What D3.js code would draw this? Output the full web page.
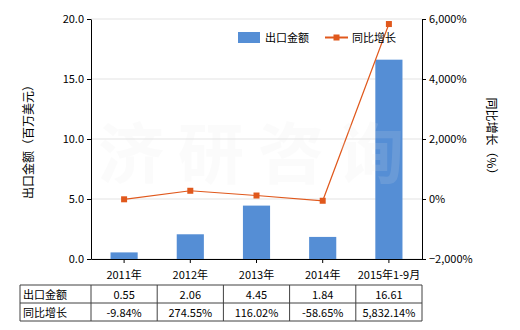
<!DOCTYPE html>
<html>
<head>
<meta charset="utf-8">
<script src="https://cdn.jsdelivr.net/npm/d3@7"></script>
<style>
  body { margin: 0; background: #fff; }
  svg { font-family: "Noto Sans CJK SC", "DejaVu Sans", sans-serif; }
</style>
</head>
<body>
<svg id="chart" width="520" height="330"></svg>
<script>
// data
const categories = ["2011年", "2012年", "2013年", "2014年", "2015年1-9月"];
const exportValues = [0.55, 2.06, 4.45, 1.84, 16.61];
const growthValues = [-9.84, 274.55, 116.02, -58.65, 5832.14];
const exportLabels = ["0.55", "2.06", "4.45", "1.84", "16.61"];
const growthLabels = ["-9.84%", "274.55%", "116.02%", "-58.65%", "5,832.14%"];
const leftTicks = [0, 5, 10, 15, 20];
const rightTicks = [-2000, 0, 2000, 4000, 6000];

const plotLeft = 91, plotRight = 422, plotTop = 19, plotBottom = 259;
const barColor = "#558ed5";
const lineColor = "#e0581c";

const svg = d3.select("#chart");

const x = d3.scaleBand()
    .domain(categories)
    .range([plotLeft, plotRight]);

const y = d3.scaleLinear()
    .domain([0, 20])
    .range([plotBottom, plotTop]);

const y2 = d3.scaleLinear()
    .domain([-2000, 6000])
    .range([plotBottom, plotTop]);

// grid
svg.append("g")
    .selectAll("line")
    .data(leftTicks)
    .enter()
    .append("line")
    .attr("x1", plotLeft).attr("x2", plotRight)
    .attr("y1", d => y(d)).attr("y2", d => y(d))
    .attr("stroke", "#e3e3e3")
    .attr("stroke-width", 1);

// bars
const bw = x.bandwidth() * 0.41;
svg.append("g")
    .selectAll("rect")
    .data(exportValues)
    .enter()
    .append("rect")
    .attr("x", (d, i) => x(categories[i]) + x.bandwidth() / 2 - bw / 2)
    .attr("y", d => y(d))
    .attr("width", bw)
    .attr("height", d => y(0) - y(d))
    .attr("fill", barColor);

// growth line
const line = d3.line()
    .x((d, i) => x(categories[i]) + x.bandwidth() / 2)
    .y(d => y2(d));

svg.append("path")
    .datum(growthValues)
    .attr("d", line)
    .attr("fill", "none")
    .attr("stroke", lineColor)
    .attr("stroke-width", 1.2);

svg.append("g")
    .selectAll("rect")
    .data(growthValues)
    .enter()
    .append("rect")
    .attr("x", (d, i) => x(categories[i]) + x.bandwidth() / 2 - 3)
    .attr("y", d => y2(d) - 3)
    .attr("width", 6)
    .attr("height", 6)
    .attr("fill", lineColor);

// faint watermark
svg.append("text")
    .attr("x", 258)
    .attr("y", 178)
    .attr("text-anchor", "middle")
    .attr("font-size", 66)
    .attr("font-weight", "bold")
    .attr("letter-spacing", 14)
    .attr("fill", "#e6e6e6")
    .attr("opacity", 0.14)
    .text("济研咨询");

// axes
const yAxis = d3.axisLeft(y).tickValues(leftTicks).tickFormat(d3.format(".1f")).tickSize(4).tickSizeOuter(0);
const gy = svg.append("g").attr("transform", `translate(${plotLeft},0)`).call(yAxis);

const y2Axis = d3.axisRight(y2).tickValues(rightTicks).tickFormat(d => d3.format(",")(d) + "%").tickSize(4).tickSizeOuter(0);
const gy2 = svg.append("g").attr("transform", `translate(${plotRight},0)`).call(y2Axis);

const xAxis = d3.axisBottom(x).tickSize(4).tickSizeOuter(0);
const gx = svg.append("g").attr("transform", `translate(0,${plotBottom})`).call(xAxis);

[gy, gy2, gx].forEach(g => {
    g.selectAll("path, line").attr("stroke", "#000");
    g.selectAll("text").attr("fill", "#000").attr("font-size", 11)
        .attr("font-family", "\"Noto Sans CJK SC\", sans-serif");
});
gx.selectAll("text").attr("dy", "1.2em");

// axis titles
svg.append("text")
    .attr("transform", "translate(33,139) rotate(-90)")
    .attr("text-anchor", "middle")
    .attr("font-size", 12)
    .text("出口金额（百万美元）");

svg.append("text")
    .attr("transform", "translate(487,139) rotate(90)")
    .attr("text-anchor", "middle")
    .attr("font-size", 12)
    .text("同比增长（%）");

// legend
const lg = svg.append("g");
lg.append("rect").attr("x", 238).attr("y", 32).attr("width", 22).attr("height", 11).attr("fill", barColor);
lg.append("text").attr("x", 265).attr("y", 42).attr("font-size", 11).text("出口金额");
lg.append("line").attr("x1", 325).attr("x2", 348).attr("y1", 37.5).attr("y2", 37.5)
    .attr("stroke", lineColor).attr("stroke-width", 2);
lg.append("rect").attr("x", 333.5).attr("y", 34.5).attr("width", 6).attr("height", 6).attr("fill", lineColor);
lg.append("text").attr("x", 352).attr("y", 42).attr("font-size", 11).text("同比增长");

// data table
const tTop = 285, rowH = 18, tLeft = 20;
const rows = [
    { name: "出口金额", labels: exportLabels },
    { name: "同比增长", labels: growthLabels }
];
const tg = svg.append("g");
const colEdges = [tLeft, plotLeft].concat(categories.map(c => x(c) + x.bandwidth()));
colEdges.forEach(cx => {
    tg.append("line").attr("x1", cx).attr("x2", cx).attr("y1", tTop).attr("y2", tTop + rowH * 2)
        .attr("stroke", "#404040");
});
[0, 1, 2].forEach(r => {
    tg.append("line").attr("x1", tLeft).attr("x2", plotRight)
        .attr("y1", tTop + r * rowH).attr("y2", tTop + r * rowH)
        .attr("stroke", "#404040");
});
rows.forEach((row, r) => {
    tg.append("text").attr("x", tLeft + 3).attr("y", tTop + r * rowH + 13.5)
        .attr("font-size", 11).text(row.name);
    tg.selectAll(null)
        .data(row.labels)
        .enter()
        .append("text")
        .attr("x", (d, i) => x(categories[i]) + x.bandwidth() / 2)
        .attr("y", tTop + r * rowH + 14)
        .attr("text-anchor", "middle")
        .attr("font-size", 11)
        .text(d => d);
});
</script>
</body>
</html>
